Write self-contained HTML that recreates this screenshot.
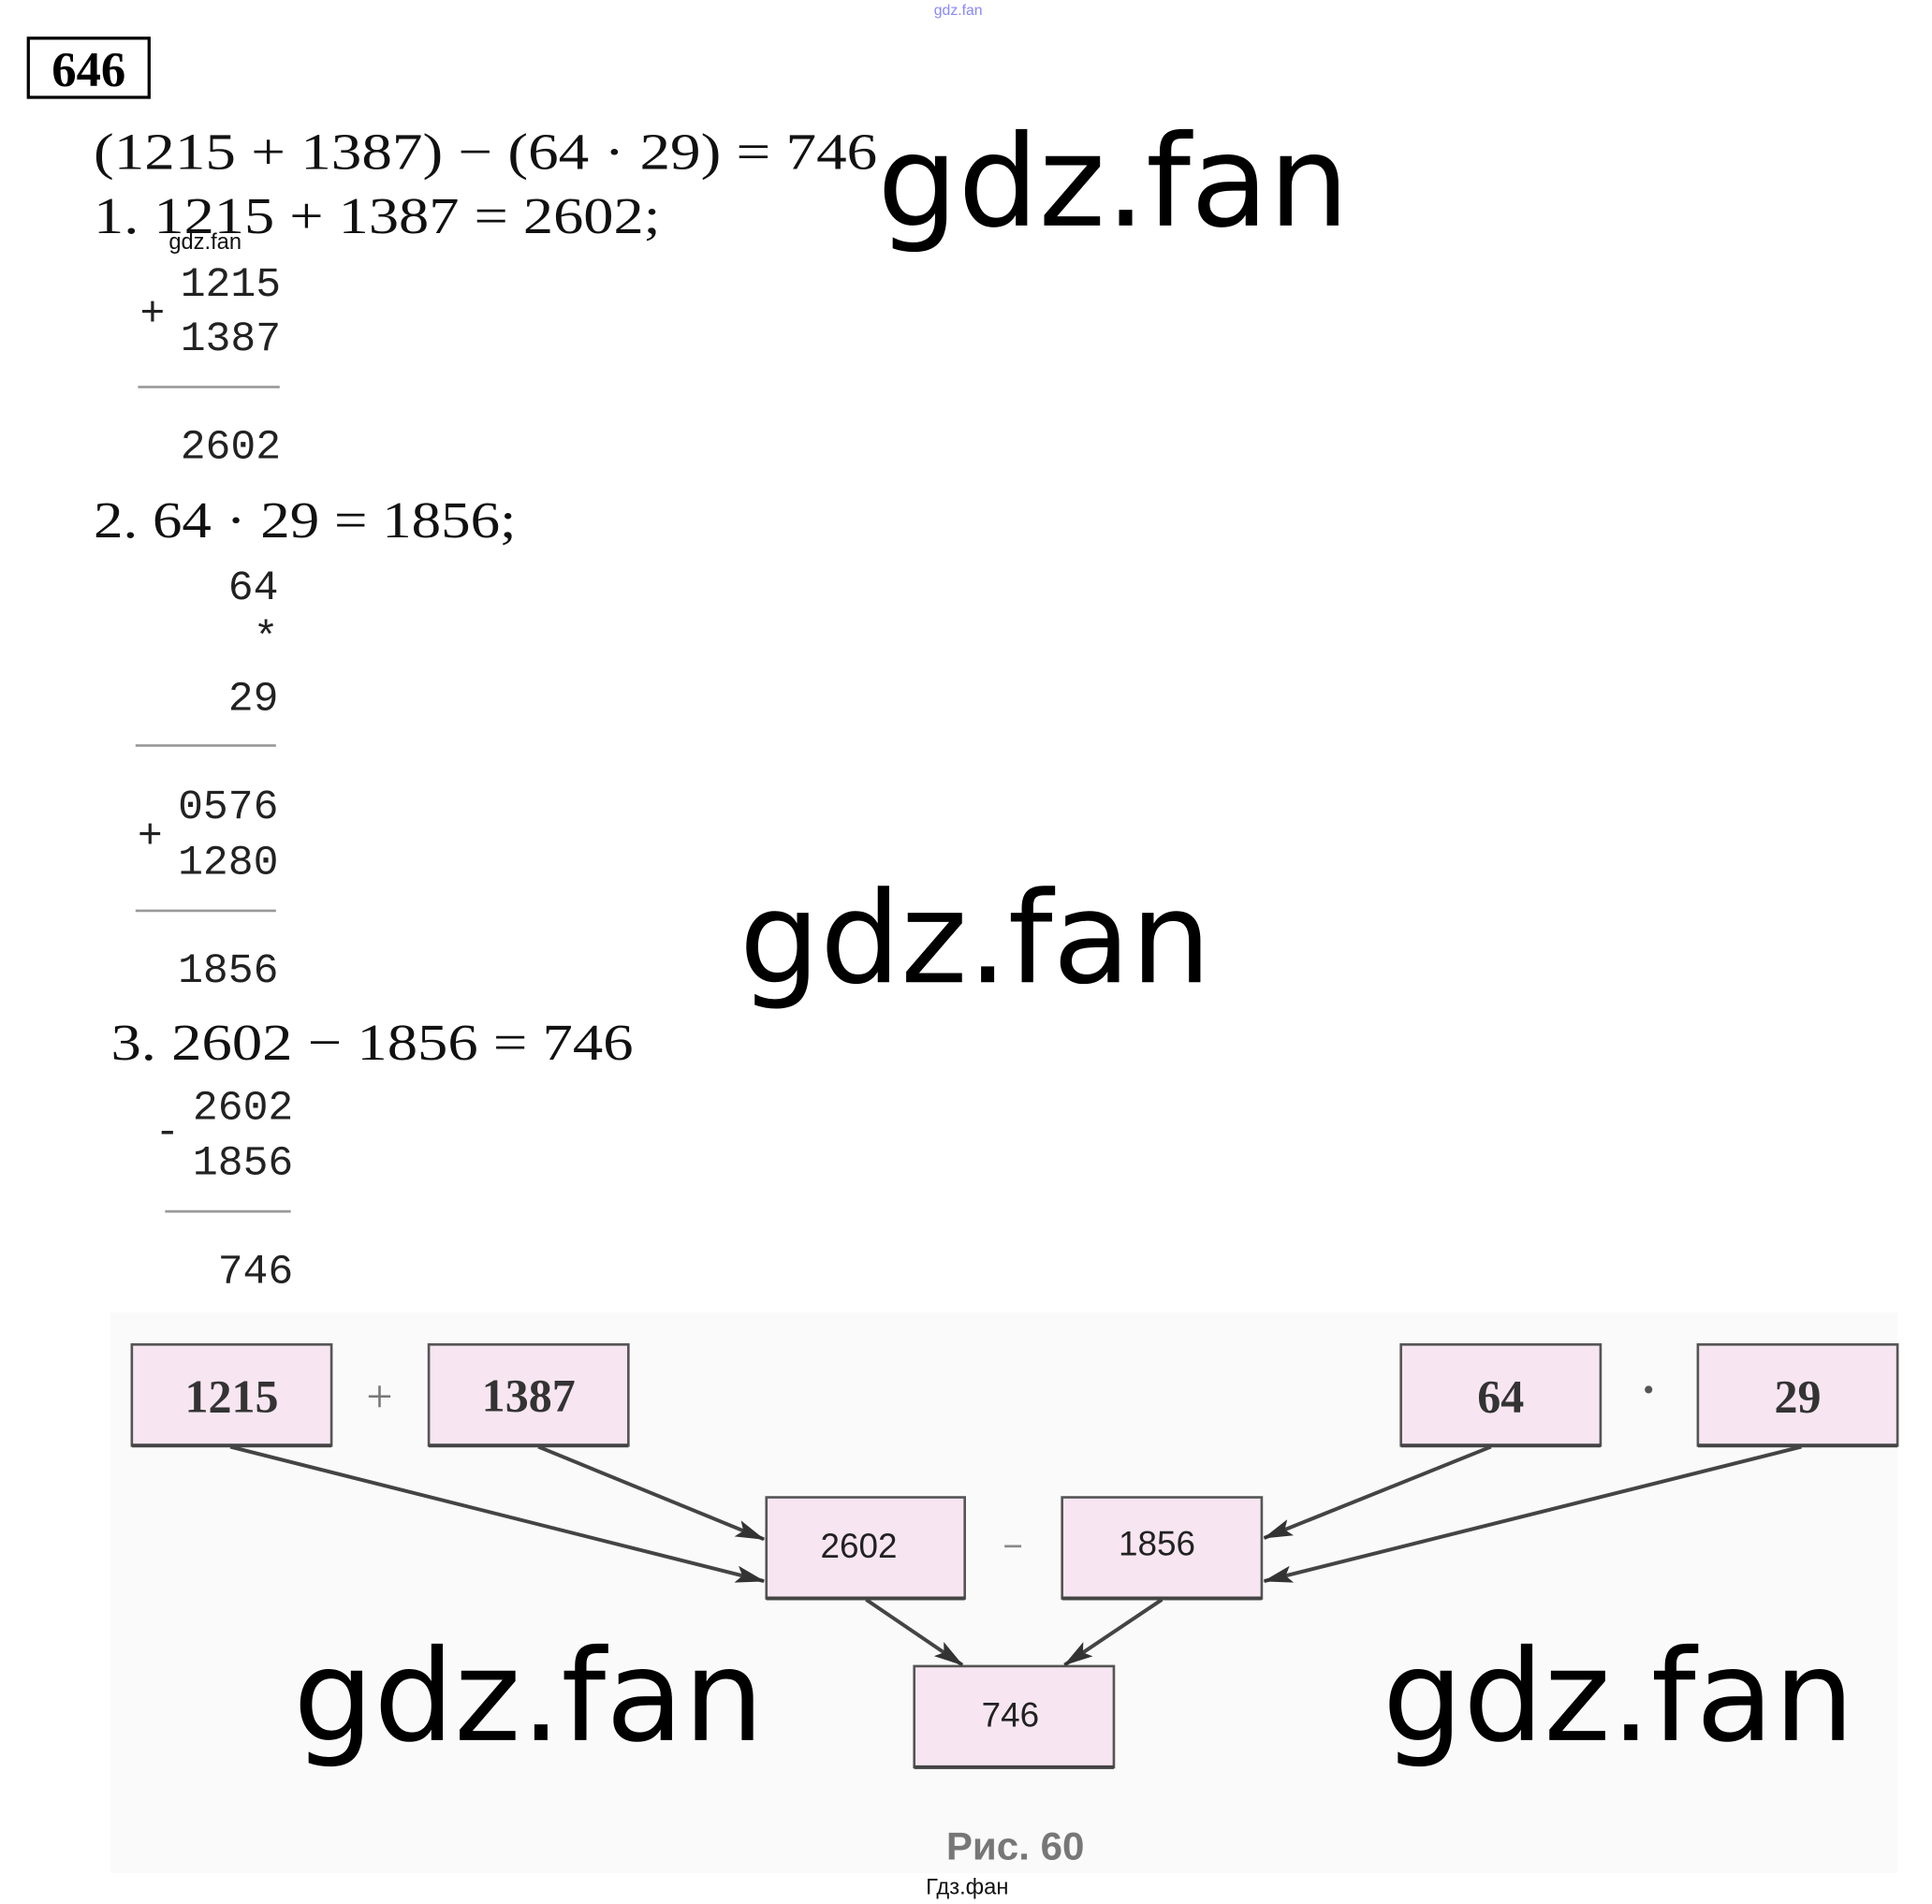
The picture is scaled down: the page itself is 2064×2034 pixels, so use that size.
<!DOCTYPE html>
<html><head><meta charset="utf-8"><style>
html,body{margin:0;padding:0;background:#fff;}
svg{display:block;}
</style></head><body>
<svg width="2064" height="2034" viewBox="0 0 1568 1545" preserveAspectRatio="none" xmlns="http://www.w3.org/2000/svg">
<defs>
<marker id="ah" markerWidth="24" markerHeight="14" refX="23" refY="7" orient="auto" markerUnits="userSpaceOnUse">
<path d="M0,0 L24,7 L0,14 L5,7 Z" fill="#333"/>
</marker>
</defs>
<rect width="1568" height="1545" fill="#fff"/>
<text x="758" y="12" font-family="Liberation Sans, sans-serif" font-size="12" fill="#88f">gdz.fan</text>

<rect x="23" y="31" width="98" height="48" fill="none" stroke="#000" stroke-width="2.5"/>
<text x="72" y="70" text-anchor="middle" font-family="Liberation Serif, serif" font-weight="bold" font-size="40" fill="#000">646</text>

<g font-family="Liberation Serif, serif" font-size="42" fill="#111">
<text x="76" y="137" textLength="636" lengthAdjust="spacingAndGlyphs">(1215 + 1387) − (64 · 29) = 746</text>
<text x="76" y="189" textLength="460" lengthAdjust="spacingAndGlyphs">1. 1215 + 1387 = 2602;</text>
<text x="76" y="436" textLength="343" lengthAdjust="spacingAndGlyphs">2. 64 · 29 = 1856;</text>
<text x="90" y="860" textLength="424" lengthAdjust="spacingAndGlyphs">3. 2602 − 1856 = 746</text>
</g>
<text x="137" y="202" font-family="Liberation Sans, sans-serif" font-size="18" fill="#111">gdz.fan</text>

<g font-family="Liberation Mono, monospace" font-size="34" fill="#222" text-anchor="end">
<text x="228" y="240">1215</text>
<text x="228" y="284">1387</text>
<text x="228" y="372">2602</text>
<text x="226" y="486">64</text>
<text x="226" y="527">*</text>
<text x="226" y="576">29</text>
<text x="226" y="664">0576</text>
<text x="226" y="709">1280</text>
<text x="226" y="797">1856</text>
<text x="238" y="908">2602</text>
<text x="238" y="953">1856</text>
<text x="238" y="1041">746</text>
<text x="134" y="264">+</text>
<text x="132" y="688">+</text>
<text x="146" y="928">-</text>
</g>
<g stroke="#999" stroke-width="2">
<line x1="112" y1="314" x2="227" y2="314"/>
<line x1="110" y1="605" x2="224" y2="605"/>
<line x1="110" y1="739" x2="224" y2="739"/>
<line x1="134" y1="983" x2="236" y2="983"/>
</g>

<rect x="90" y="1065" width="1450" height="455" fill="#fafafa"/>
<g fill="#f7e6f1" stroke="#555" stroke-width="2">
<rect x="107" y="1091" width="162" height="82"/>
<rect x="348" y="1091" width="162" height="82"/>
<rect x="1137" y="1091" width="162" height="82"/>
<rect x="1378" y="1091" width="162" height="82"/>
<rect x="622" y="1215" width="161" height="82"/>
<rect x="862" y="1215" width="162" height="82"/>
<rect x="742" y="1352" width="162" height="82"/>
</g>
<g stroke="#444" stroke-width="3">
<line x1="107" y1="1173" x2="269" y2="1173"/><line x1="348" y1="1173" x2="510" y2="1173"/>
<line x1="1137" y1="1173" x2="1299" y2="1173"/><line x1="1378" y1="1173" x2="1540" y2="1173"/>
<line x1="622" y1="1297" x2="783" y2="1297"/><line x1="862" y1="1297" x2="1024" y2="1297"/>
<line x1="742" y1="1434" x2="904" y2="1434"/>
</g>
<g font-family="Liberation Serif, serif" font-weight="bold" font-size="38" fill="#333" text-anchor="middle">
<text x="188" y="1146">1215</text>
<text x="429" y="1145">1387</text>
<text x="1218" y="1146">64</text>
<text x="1459" y="1146">29</text>
<text x="308" y="1146" font-weight="normal" fill="#777">+</text>
<text x="1338" y="1140" fill="#555">·</text>
</g>
<g font-family="Liberation Sans, sans-serif" font-size="28" fill="#222" text-anchor="middle">
<text x="697" y="1264">2602</text>
<text x="939" y="1262">1856</text>
<text x="822" y="1264" fill="#888">−</text>
<text x="820" y="1401">746</text>
</g>
<g stroke="#444" stroke-width="3" marker-end="url(#ah)">
<line x1="187" y1="1174" x2="620" y2="1283"/>
<line x1="437" y1="1174" x2="620" y2="1249"/>
<line x1="1210" y1="1174" x2="1026" y2="1248"/>
<line x1="1462" y1="1174" x2="1026" y2="1283"/>
<line x1="703" y1="1298" x2="781" y2="1351"/>
<line x1="943" y1="1298" x2="864" y2="1351"/>
</g>
<text x="824" y="1509" text-anchor="middle" font-family="Liberation Sans, sans-serif" font-weight="bold" font-size="32" fill="#777">Рис. 60</text>
<text x="785" y="1537" text-anchor="middle" font-family="Liberation Sans, sans-serif" font-size="18" fill="#111">Гдз.фан</text>

<g font-family="DejaVu Sans, sans-serif" font-size="103" fill="#000">
<text x="712" y="183" textLength="383" lengthAdjust="spacingAndGlyphs">gdz.fan</text>
<text x="600" y="797" textLength="383" lengthAdjust="spacingAndGlyphs">gdz.fan</text>
<text x="238" y="1412" textLength="382" lengthAdjust="spacingAndGlyphs">gdz.fan</text>
<text x="1122" y="1412" textLength="383" lengthAdjust="spacingAndGlyphs">gdz.fan</text>
</g>
</svg>
</body></html>
